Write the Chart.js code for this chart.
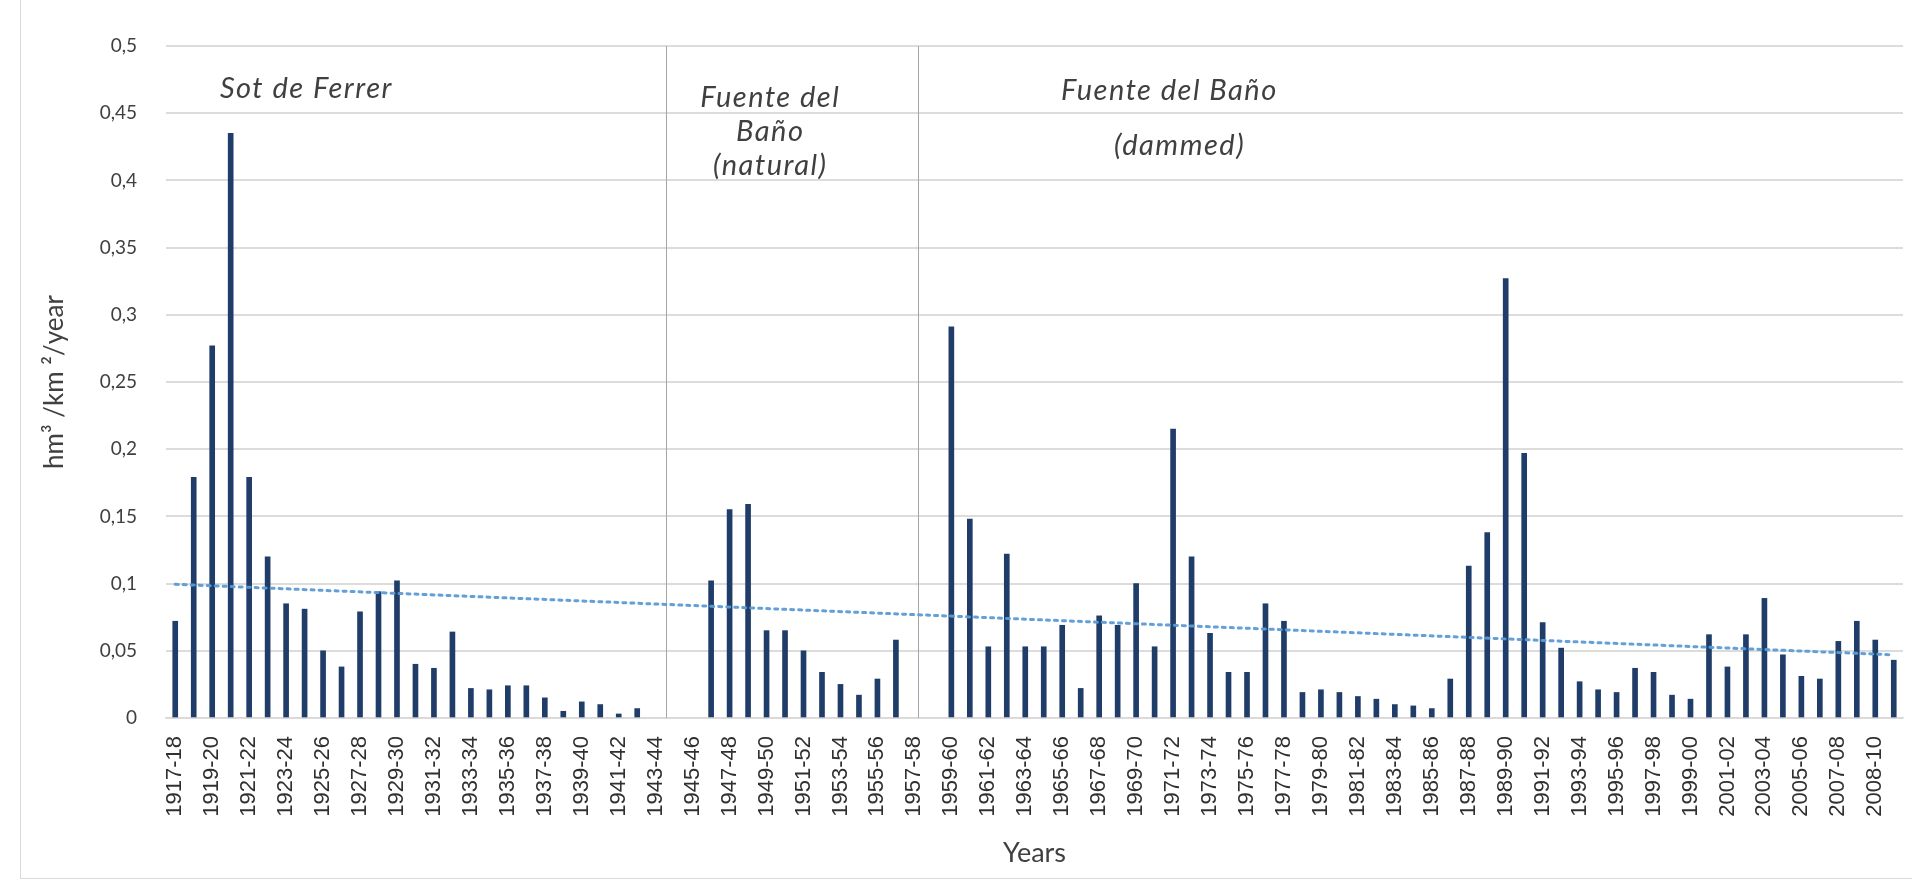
<!DOCTYPE html>
<html><head><meta charset="utf-8">
<script src="https://cdn.jsdelivr.net/npm/chart.js@4"></script>
<style>html,body{margin:0;padding:0;background:#fff;}#wrap{position:relative;width:1912px;height:889px;}</style>
</head><body><div id="wrap"><canvas id="c" width="1912" height="889"></canvas></div>
<script>
const categories = ['1917-18','1918-19','1919-20','1920-21','1921-22','1922-23','1923-24','1924-25','1925-26','1926-27',
'1927-28','1928-29','1929-30','1930-31','1931-32','1932-33','1933-34','1934-35','1935-36','1936-37',
'1937-38','1938-39','1939-40','1940-41','1941-42','1942-43','1943-44','1944-45','1945-46','1946-47',
'1947-48','1948-49','1949-50','1950-51','1951-52','1952-53','1953-54','1954-55','1955-56','1956-57',
'1957-58','1958-59','1959-60','1960-61','1961-62','1962-63','1963-64','1964-65','1965-66','1966-67',
'1967-68','1968-69','1969-70','1970-71','1971-72','1972-73','1973-74','1974-75','1975-76','1976-77',
'1977-78','1978-79','1979-80','1980-81','1981-82','1982-83','1983-84','1984-85','1985-86','1986-87',
'1987-88','1988-89','1989-90','1990-91','1991-92','1992-93','1993-94','1994-95','1995-96','1996-97',
'1997-98','1998-99','1999-00','2000-01','2001-02','2002-03','2003-04','2004-05','2005-06','2006-07',
'2007-08','2008-09','2008-10','2010-11'];

const sedimentYield = [0.072,0.179,0.277,0.435,0.179,0.120,0.085,0.081,0.050,0.038,
0.079,0.094,0.102,0.040,0.037,0.064,0.022,0.021,0.024,0.024,
0.015,0.005,0.012,0.010,0.003,0.007,null,null,null,0.102,
0.155,0.159,0.065,0.065,0.050,0.034,0.025,0.017,0.029,0.058,
null,null,0.291,0.148,0.053,0.122,0.053,0.053,0.069,0.022,
0.076,0.069,0.100,0.053,0.215,0.120,0.063,0.034,0.034,0.085,
0.072,0.019,0.021,0.019,0.016,0.014,0.010,0.009,0.007,0.029,
0.113,0.138,0.327,0.197,0.071,0.052,0.027,0.021,0.019,0.037,
0.034,0.017,0.014,0.062,0.038,0.062,0.089,0.047,0.031,0.029,
0.057,0.072,0.058,0.043];

const trendEnds = [0.0995, 0.047];
const yTickLabels = ['0','0,05','0,1','0,15','0,2','0,25','0,3','0,35','0,4','0,45','0,5'];
const sectionTexts = [['Sot de Ferrer'], ['Fuente del','Baño','(natural)'], ['Fuente del Baño'], ['(dammed)']];
const sectionBreaks = [26.58, 40.17];

const trendData = categories.map((c,i)=> i===0 ? trendEnds[0] : (i===categories.length-1 ? trendEnds[1] : null));

const decor = {
  id:'decor',
  beforeDraw(chart){
    const ctx = chart.ctx;
    ctx.save();
    ctx.fillStyle='#fff'; ctx.fillRect(0,0,chart.width,chart.height);
    ctx.strokeStyle='#d9d9d9'; ctx.lineWidth=1;
    ctx.beginPath(); ctx.moveTo(20.5,0); ctx.lineTo(20.5,878.5); ctx.lineTo(chart.width,878.5); ctx.stroke();
    ctx.restore();
  },
  beforeDatasetsDraw(chart){
    const ctx = chart.ctx, x = chart.scales.x, a = chart.chartArea;
    ctx.save();
    ctx.strokeStyle='#a6a6a6'; ctx.lineWidth=1;
    sectionBreaks.forEach(b=>{
      const px = Math.round(x.getPixelForValue(b))+0.5;
      ctx.beginPath(); ctx.moveTo(px,a.top); ctx.lineTo(px,a.bottom); ctx.stroke();
    });
    ctx.restore();
  },
  afterDatasetsDraw(chart){
    const ctx = chart.ctx, x = chart.scales.x, y = chart.scales.y;
    ctx.save();
    ctx.fillStyle='#404040';
    ctx.font='italic 29px Lato, "Open Sans", sans-serif';
    try { ctx.letterSpacing = '1.5px'; } catch(e) {}
    ctx.textAlign='center'; ctx.textBaseline='middle';
    const anchors = [[7.1,[0.468]],[32.2,[0.4617,0.436,0.4107]],[53.8,[0.4665]],[54.35,[0.4256]]];
    sectionTexts.forEach((lines,k)=>{
      const [ix, ys] = anchors[k];
      lines.forEach((t,j)=> ctx.fillText(t, x.getPixelForValue(ix), y.getPixelForValue(ys[j])));
    });
    ctx.restore();
  }
};

new Chart(document.getElementById('c'), {
  data:{
    labels: categories,
    datasets:[
      {type:'line', label:'Trend', data: trendData, spanGaps:true, borderColor:'rgba(91,155,213,0.95)', borderWidth:3,
       borderDash:[3,5], borderCapStyle:'round', pointRadius:0, order:0, tension:0},
      {type:'bar', label:'hm3/km2/year', data: sedimentYield, backgroundColor:'#1f3d68', barThickness:5, order:1}
    ]
  },
  options:{
    responsive:false, devicePixelRatio:1, animation:false,
    layout:{padding:{top:46,right:9,left:0,bottom:0}},
    plugins:{legend:{display:false}, tooltip:{enabled:false}},
    scales:{
      x:{
        grid:{display:false, drawTicks:false},
        border:{display:true, color:'#d9d9d9', width:1.5},
        ticks:{autoSkip:false, maxRotation:90, minRotation:90, padding:18, color:'#303030',
               font:{family:'"Liberation Sans", Arial, sans-serif', size:22},
               callback:(v,i)=> i%2===0 ? categories[i] : ''},
        title:{display:true, text:'Years', color:'#404040', font:{family:'Lato, sans-serif', size:27}, padding:{top:0,bottom:20}},
        afterFit(s){ s.height = 171; s.paddingRight = 0; s.paddingLeft = 0; }
      },
      y:{
        min:0, max:0.5,
        grid:{color:'#dcdcdc', lineWidth:2, drawTicks:false},
        border:{display:false},
        ticks:{stepSize:0.05, padding:29, color:'#404040', font:{family:'Lato, sans-serif', size:19},
               callback:(v,i)=> yTickLabels[i]},
        title:{display:true, text:'hm³ /km ²/year', color:'#404040', font:{family:'Lato, sans-serif', size:26}, padding:{top:39,bottom:0}},
        afterFit(s){ s.width = 166; }
      }
    }
  },
  plugins:[decor]
});
</script></body></html>
